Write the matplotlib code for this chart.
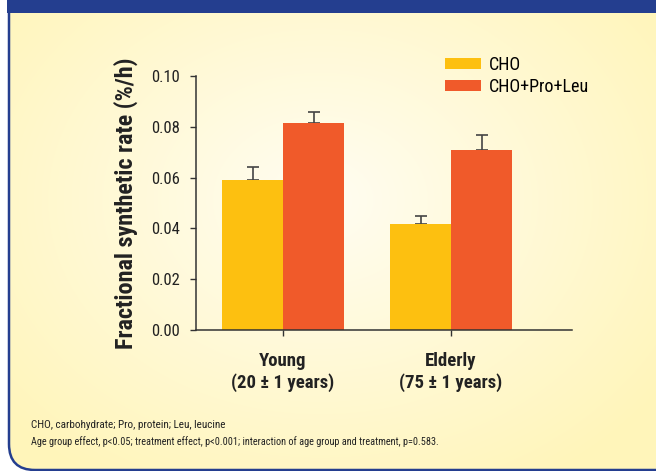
import numpy as np
import matplotlib
matplotlib.use("Agg")
import matplotlib.pyplot as plt
import matplotlib.font_manager as fm
from matplotlib.patches import FancyBboxPatch, Rectangle

# data
groups = ["Young\n(20 \u00b1 1 years)", "Elderly\n(75 \u00b1 1 years)"]
series = ["CHO", "CHO+Pro+Leu"]
cho = [0.0591, 0.0417]
cho_err = [0.0049, 0.0033]
cpl = [0.0814, 0.0709]
cpl_err = [0.0046, 0.0059]
yticks = [0.00, 0.02, 0.04, 0.06, 0.08, 0.10]
notes = ["CHO, carbohydrate; Pro, protein; Leu, leucine",
         "Age group effect, p<0.05; treatment effect, p<0.001; "
         "interaction of age group and treatment, p=0.583."]

# pick a condensed sans if one is around
have = {f.name for f in fm.fontManager.ttflist}
cands = ["Roboto Condensed", "Archivo Narrow", "PT Sans Narrow",
         "Liberation Sans Narrow", "Pragati Narrow"]
narrow = [c for c in cands if c in have][:1]
FONT = narrow + ["Liberation Sans", "DejaVu Sans"]
plt.rcParams["font.family"] = FONT

W, H = 656, 471
BLUE = "#243e8f"
C_CHO = "#fdc010"
C_CPL = "#f05a2a"
DARK = "#333333"

fig = plt.figure(figsize=(W / 100, H / 100), dpi=100)

# background panel (pixel coordinates)
bg = fig.add_axes([0, 0, 1, 1])
bg.set_xlim(0, W)
bg.set_ylim(H, 0)
bg.axis("off")
yy, xx = np.mgrid[0:H, 0:W]
r = np.sqrt(((xx - 320) / 420.0) ** 2 + ((yy - 200) / 330.0) ** 2)
r = np.clip(r, 0, 1)
c0 = np.array([1.0, 0.992, 0.95])
c1 = np.array([1.0, 0.962, 0.73])
img = c0[None, None, :] * (1 - r[..., None]) + c1[None, None, :] * r[..., None]
box = FancyBboxPatch((9, -40), 720, 510, boxstyle="round,pad=0,rounding_size=26",
                     facecolor="none", edgecolor=BLUE, lw=1.8, zorder=3)
bg.add_patch(box)
im = bg.imshow(img, extent=(0, W, H, 0), zorder=1, aspect="auto")
im.set_clip_path(box)
bg.add_patch(Rectangle((7, 0), W, 13, facecolor=BLUE, edgecolor="none", zorder=4))

bg.text(31, 425, notes[0], fontsize=8, color="#222222", va="center", ha="left")
bg.text(31, 442, notes[1], fontsize=7.4, color="#222222", va="center", ha="left")

# main chart
ax = fig.add_axes([196 / W, 1 - 330 / H, (572 - 196) / W, (330 - 76) / H])
ax.patch.set_alpha(0)
x = np.arange(len(groups))
w = 0.363
ek = dict(ecolor="#444444", elinewidth=1.2, capthick=1.2, capsize=4.5)
ax.bar(x - w / 2, cho, w, color=C_CHO, label=series[0], zorder=2)
ax.bar(x + w / 2, cpl, w, color=C_CPL, label=series[1], zorder=2)
ax.errorbar(x - w / 2, cho, yerr=[np.zeros(len(cho)), cho_err], fmt="none", zorder=1, **ek)
ax.errorbar(x + w / 2, cpl, yerr=[np.zeros(len(cpl)), cpl_err], fmt="none", zorder=1, **ek)

ax.set_xlim(-0.518, 1.72)
ax.set_ylim(0, 0.10)
ax.set_yticks(yticks)
ax.set_yticklabels([f"{v:.2f}" for v in yticks], fontsize=12, color="#222222")
ax.set_xticks(x)
ax.set_xticklabels(groups, fontsize=13.5, fontweight="bold", color="#222222",
                   linespacing=1.2)
for s in ["top", "right"]:
    ax.spines[s].set_visible(False)
for s in ["left", "bottom"]:
    ax.spines[s].set_color(DARK)
    ax.spines[s].set_linewidth(1.1)
ax.tick_params(direction="out", length=4, width=1, color=DARK)
ax.tick_params(axis="y", pad=7.5)
ax.tick_params(axis="x", pad=12)
ax.set_ylabel("Fractional synthetic rate (%/h)", fontsize=17.4, fontweight="bold",
              color="#222222", labelpad=9.5)

ax.legend(loc="upper left", bbox_to_anchor=(445 / W, 1 - 56 / H),
          bbox_transform=fig.transFigure, frameon=False, fontsize=13,
          handlelength=2.0, handleheight=0.55, handletextpad=0.45,
          labelspacing=0.2, borderpad=0, borderaxespad=0)

fig.savefig("out.png", dpi=100)
